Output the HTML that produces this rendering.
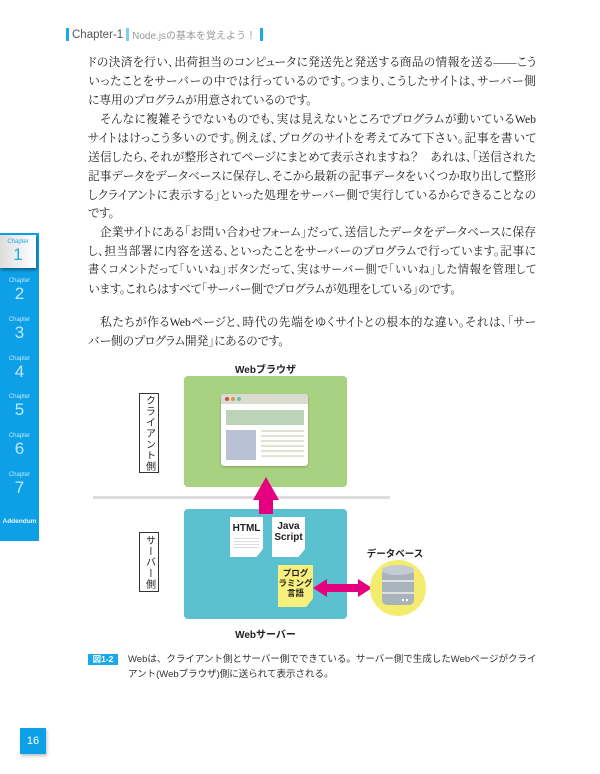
<!DOCTYPE html>
<html><head><meta charset="utf-8"><style>
*{margin:0;padding:0;box-sizing:border-box}
body{width:600px;height:774px;background:#fff;position:relative;overflow:hidden;font-family:"Liberation Serif","Noto Serif CJK JP",serif;color:#222}
.l{position:absolute;left:88px;width:448px;font-size:11.7px;line-height:19px;height:19px;text-align:justify;text-align-last:justify;font-feature-settings:"palt";overflow:visible}
.s{text-align-last:left}
.abs{position:absolute}
.sans{font-family:"Liberation Sans","Noto Sans CJK JP",sans-serif}
.side{position:absolute;left:0;width:39px;text-align:center;color:#bfe6fb;font-family:"Liberation Sans",sans-serif}
.side .c{font-size:6px;line-height:7px}
.side .n{font-size:17px;line-height:18px}
.vlab{position:absolute;left:139px;width:20px;border:1px solid #333;background:#fff;font-size:10px;writing-mode:vertical-rl;display:flex;align-items:center;justify-content:center;font-family:"Liberation Sans","Noto Sans CJK JP",sans-serif;color:#222;letter-spacing:1px}
.doc{position:absolute;background:#fff;box-shadow:1px 1px 2px rgba(0,0,0,.3);font-family:"Liberation Sans",sans-serif;font-weight:bold;font-size:10px;text-align:center;line-height:11px;clip-path:polygon(0 0,100% 0,100% 80%,80% 100%,0 100%)}
.hdr{position:absolute;left:66px;top:27px;display:flex;align-items:center;height:15px}
.bar{width:3px;height:13px;background:#1ba9e8}
</style></head><body>
<div class="hdr sans">
 <div class="bar"></div>
 <div style="font-size:11.5px;color:#555;margin:0 3px 0 3px">Chapter-1</div>
 <div class="bar" style="background:#7fcdf0"></div>
 <div style="font-size:10px;color:#999;margin:0 4px 0 3px">Node.jsの基本を覚えよう！</div>
 <div class="bar"></div>
</div>

<div class="l" style="top:53px">ドの決済を行い、出荷担当のコンピュータに発送先と発送する商品の情報を送る——こう</div>
<div class="l" style="top:72px">いったことをサーバーの中では行っているのです。つまり、こうしたサイトは、サーバー側</div>
<div class="l s" style="top:91px">に専用のプログラムが用意されているのです。</div>
<div class="l" style="top:110px">　そんなに複雑そうでないものでも、実は見えないところでプログラムが動いているWeb</div>
<div class="l" style="top:129px">サイトはけっこう多いのです。例えば、ブログのサイトを考えてみて下さい。記事を書いて</div>
<div class="l" style="top:148px">送信したら、それが整形されてページにまとめて表示されますね？　あれは、「送信された</div>
<div class="l" style="top:167px">記事データをデータベースに保存し、そこから最新の記事データをいくつか取り出して整形</div>
<div class="l" style="top:186px">しクライアントに表示する」といった処理をサーバー側で実行しているからできることなの</div>
<div class="l s" style="top:204px">です。</div>
<div class="l" style="top:223px">　企業サイトにある「お問い合わせフォーム」だって、送信したデータをデータベースに保存</div>
<div class="l" style="top:242px">し、担当部署に内容を送る、といったことをサーバーのプログラムで行っています。記事に</div>
<div class="l" style="top:261px;font-size:11.2px">書くコメントだって「いいね」ボタンだって、実はサーバー側で「いいね」した情報を管理して</div>
<div class="l s" style="top:280px">います。これらはすべて「サーバー側でプログラムが処理をしている」のです。</div>
<div class="l" style="top:313px">　私たちが作るWebページと、時代の先端をゆくサイトとの根本的な違い。それは、「サー</div>
<div class="l s" style="top:332px">バー側のプログラム開発」にあるのです。</div>

<!-- sidebar -->
<div class="abs" style="left:0;top:233px;width:39px;height:308px;background:#0ea0e6"></div>
<div class="abs" style="left:0;top:235px;width:36px;height:33px;background:linear-gradient(90deg,#ddd,#fff);box-shadow:1px 2px 3px rgba(0,0,0,.4)"></div>
<div class="side" style="top:239px;width:36px;color:#1ba9e8"><div class="c">Chapter</div><div class="n">1</div></div>
<div class="side" style="top:278px"><div class="c">Chapter</div><div class="n">2</div></div>
<div class="side" style="top:317px"><div class="c">Chapter</div><div class="n">3</div></div>
<div class="side" style="top:356px"><div class="c">Chapter</div><div class="n">4</div></div>
<div class="side" style="top:394px"><div class="c">Chapter</div><div class="n">5</div></div>
<div class="side" style="top:433px"><div class="c">Chapter</div><div class="n">6</div></div>
<div class="side" style="top:472px"><div class="c">Chapter</div><div class="n">7</div></div>
<div class="side" style="top:518px;font-size:6.5px;color:#e6f6ff;font-weight:bold">Addendum</div>

<!-- diagram -->
<div class="abs sans" style="left:184px;width:163px;top:361px;text-align:center;font-size:10px;font-weight:bold">Webブラウザ</div>
<div class="abs" style="left:184px;top:376px;width:163px;height:111px;background:#a8d281;border-radius:4px"></div>
<div class="abs" style="left:221px;top:394px;width:87px;height:72px;background:#fff;border-radius:3px;box-shadow:0 1px 2px rgba(0,0,0,.25);overflow:hidden">
 <div style="height:10px;background:#dcdbd0;position:relative">
  <span class="abs" style="left:4px;top:3px;width:4px;height:4px;border-radius:50%;background:#c9524a"></span>
  <span class="abs" style="left:10px;top:3px;width:4px;height:4px;border-radius:50%;background:#d99b4a"></span>
  <span class="abs" style="left:16px;top:3px;width:4px;height:4px;border-radius:50%;background:#6bbfa7"></span>
 </div>
 <div class="abs" style="left:5px;top:16px;width:78px;height:15px;background:#bdd3b8"></div>
 <div class="abs" style="left:5px;top:36px;width:30px;height:30px;background:#b8c2d4"></div>
 <div class="abs" style="left:40px;top:36px;width:43px;height:30px;background:repeating-linear-gradient(#dfe3d4 0 2px,#fff 2px 5px)"></div>
</div>
<div class="vlab" style="top:393px;height:80px">クライアント側</div>
<div class="abs" style="left:93px;top:496px;width:297px;height:3px;background:#ddd"></div>
<div class="abs" style="left:184px;top:509px;width:163px;height:110px;background:#5bc1d0;border-radius:4px"></div>
<div class="vlab" style="top:532px;height:60px">サーバー側</div>
<svg class="abs" style="left:0;top:0" width="600" height="774">
 <polygon points="259,514 273,514 273,500 279,500 266,477 253,500 259,500" fill="#e5007f"/>
 <polygon points="313,588 327,579 327,584 358,584 358,579 372,588 358,597 358,592 327,592 327,597" fill="#e5007f"/>
 <circle cx="398" cy="588" r="28" fill="#f3ec6e"/>
 <rect x="382" y="569" width="32" height="36" rx="5" fill="#a9b3bb"/>
 <ellipse cx="398" cy="570" rx="16" ry="5" fill="#c4ccd2"/>
 <line x1="382" y1="581" x2="414" y2="581" stroke="#f0f0f0" stroke-width="1.5"/>
 <line x1="382" y1="593" x2="414" y2="593" stroke="#f0f0f0" stroke-width="1.5"/>
 <rect x="402" y="599" width="2" height="2" fill="#fff"/><rect x="406" y="599" width="2" height="2" fill="#fff"/>
</svg>
<div class="doc" style="left:230px;top:517px;width:33px;height:40px;padding-top:6px">HTML<div style="margin:4px 4px 0;height:12px;background:repeating-linear-gradient(#ddd 0 1px,#fff 1px 3px)"></div></div>
<div class="doc" style="left:272px;top:517px;width:33px;height:40px;padding-top:4px">Java<br>Script</div>
<div class="doc" style="left:278px;top:565px;width:35px;height:42px;background:#f8f07c;padding-top:3px;color:#222;font-family:'Liberation Sans','Noto Sans CJK JP',sans-serif;font-size:8.5px;line-height:10px">プログ<br>ラミング<br>言語</div>
<div class="abs sans" style="left:360px;top:546px;width:70px;text-align:center;font-size:9.5px;font-weight:bold">データベース</div>
<div class="abs sans" style="left:184px;width:163px;top:626px;text-align:center;font-size:10px;font-weight:bold">Webサーバー</div>

<!-- caption -->
<div class="abs sans" style="left:88px;top:654px;width:30px;height:11px;background:#1ba9e8;color:#fff;font-size:8.5px;line-height:11px;text-align:center;font-weight:bold">図1-2</div>
<div class="abs sans" style="left:128px;top:652px;width:410px;font-size:9.5px;line-height:15px;color:#333">Webは、クライアント側とサーバー側でできている。サーバー側で生成したWebページがクライアント(Webブラウザ)側に送られて表示される。</div>

<div class="abs sans" style="left:20px;top:728px;width:26px;height:26px;background:#0ea0e6;color:#fff;font-size:11px;line-height:26px;text-align:center;box-shadow:1px 2px 3px rgba(0,0,0,.25)">16</div>
</body></html>
